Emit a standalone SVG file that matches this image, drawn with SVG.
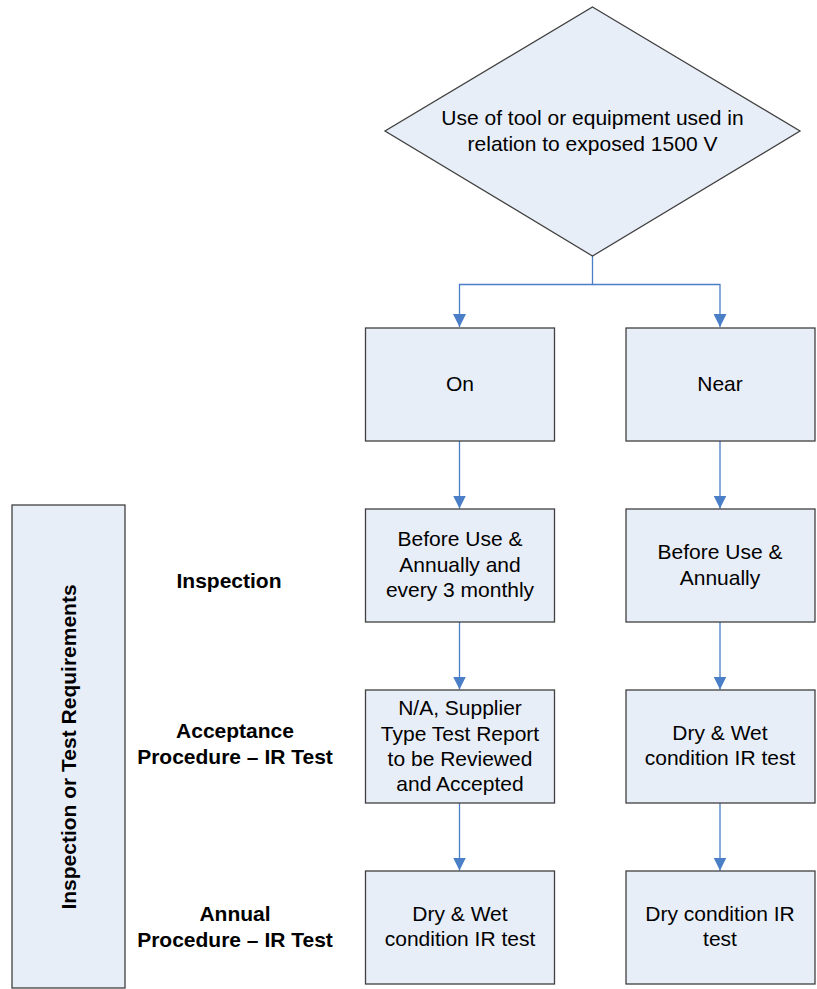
<svg xmlns="http://www.w3.org/2000/svg" width="817" height="989" viewBox="0 0 817 989">
<style>
.n{fill:#E8EEF8;stroke:#404040;stroke-width:1.3}
.t{font-family:"Liberation Sans",Arial,sans-serif;font-size:21px;fill:#000;text-anchor:middle}
.b{font-family:"Liberation Sans",Arial,sans-serif;font-size:21px;font-weight:bold;fill:#000;text-anchor:middle}
.c{fill:none;stroke:#4A7EC7;stroke-width:1.3}
</style>
<defs>
<marker id="ah" markerWidth="13" markerHeight="13" viewBox="0 0 13 13" refX="13" refY="6.5" orient="auto" markerUnits="userSpaceOnUse">
<path d="M0,0 L13,6.5 L0,13 Z" fill="#4A7EC7"/>
</marker>
</defs>
<rect width="817" height="989" fill="#fff"/>
<g id="connectors">
<path class="c" d="M592.5,256 V284.5 H459.5 V327" marker-end="url(#ah)"/>
<path class="c" d="M592.5,284.5 H720 V327" marker-end="url(#ah)"/>
<path class="c" d="M459.5,441 V508.5" marker-end="url(#ah)"/>
<path class="c" d="M720,441 V508.5" marker-end="url(#ah)"/>
<path class="c" d="M459.5,622 V689.5" marker-end="url(#ah)"/>
<path class="c" d="M720,622 V689.5" marker-end="url(#ah)"/>
<path class="c" d="M459.5,803 V870.5" marker-end="url(#ah)"/>
<path class="c" d="M720,803 V870.5" marker-end="url(#ah)"/>
</g>
<g id="decision">
<polygon class="n" points="592.5,7 800,131 592.5,256 385,131"/>
<text class="t" x="592.5" y="125">Use of tool or equipment used in</text>
<text class="t" x="592.5" y="151">relation to exposed 1500 V</text>
</g>
<g id="on">
<rect class="n" x="365.5" y="328" width="189" height="113"/>
<text class="t" x="460" y="391">On</text>
</g>
<g id="near">
<rect class="n" x="626" y="328" width="189" height="113"/>
<text class="t" x="720" y="391">Near</text>
</g>
<g id="inspect-on">
<rect class="n" x="365.5" y="509" width="189" height="113"/>
<text class="t" x="460" y="546">Before Use &amp;</text>
<text class="t" x="460" y="572">Annually and</text>
<text class="t" x="460" y="597">every 3 monthly</text>
</g>
<g id="inspect-near">
<rect class="n" x="626" y="509" width="189" height="113"/>
<text class="t" x="720" y="559">Before Use &amp;</text>
<text class="t" x="720" y="585">Annually</text>
</g>
<g id="accept-on">
<rect class="n" x="365.5" y="690" width="189" height="113"/>
<text class="t" x="460" y="715">N/A, Supplier</text>
<text class="t" x="460" y="741">Type Test Report</text>
<text class="t" x="460" y="766">to be Reviewed</text>
<text class="t" x="460" y="791">and Accepted</text>
</g>
<g id="accept-near">
<rect class="n" x="626" y="690" width="189" height="113"/>
<text class="t" x="720" y="740">Dry &amp; Wet</text>
<text class="t" x="720" y="765">condition IR test</text>
</g>
<g id="annual-on">
<rect class="n" x="365.5" y="871" width="189" height="113"/>
<text class="t" x="460" y="921">Dry &amp; Wet</text>
<text class="t" x="460" y="946">condition IR test</text>
</g>
<g id="annual-near">
<rect class="n" x="626" y="871" width="189" height="113"/>
<text class="t" x="720" y="921">Dry condition IR</text>
<text class="t" x="720" y="946">test</text>
</g>
<g id="side">
<rect class="n" x="12" y="505" width="113" height="483"/>
<text class="b" transform="translate(76,747) rotate(-90)">Inspection or Test Requirements</text>
</g>
<g id="labels">
<text class="b" x="229" y="588">Inspection</text>
<text class="b" x="235" y="738">Acceptance</text>
<text class="b" x="235" y="764">Procedure – IR Test</text>
<text class="b" x="235" y="921">Annual</text>
<text class="b" x="235" y="947">Procedure – IR Test</text>
</g>
</svg>
